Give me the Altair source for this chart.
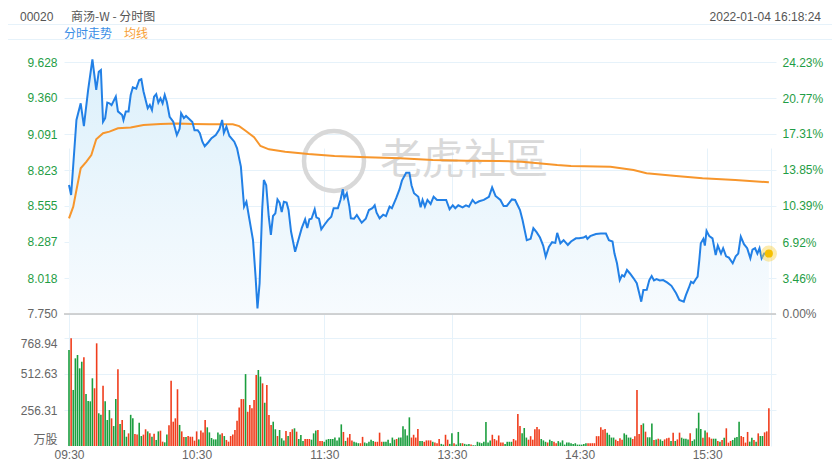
import json
import altair as alt
import pandas as pd

# ---------------- text ----------------
STOCK_CODE = "00020"
STOCK_NAME = "商汤-W - 分时图"
TIMESTAMP = "2022-01-04 16:18:24"
LEGEND_LABELS = ["分时走势", "均线"]
WATERMARK = "老虎社區"

# ---------------- axes ----------------
PREV_CLOSE = 7.75
PRICE_TICKS = [7.750, 8.018, 8.287, 8.555, 8.823, 9.091, 9.360, 9.628]
PCT_TICKS = [0.0, 0.0346, 0.0692, 0.1039, 0.1385, 0.1731, 0.2077, 0.2423]
VOL_TICKS = [0, 256.31, 512.63, 768.94]
TIME_TICKS = [0, 60, 120, 180, 240, 300, 330]
TIME_LABELS = ["09:30", "10:30", "11:30", "13:30", "14:30", "15:30", ""]

# ---------------- series (minute index, price) ----------------
PRICE_POINTS = [
    (0, 8.711), (1, 8.637), (3.5, 9.196), (5.5, 9.32), (7, 9.15), (9, 9.42), (11, 9.648),
    (12.8, 9.42), (14, 9.556), (15, 9.569), (16, 9.183), (17, 9.21), (18, 9.325), (19, 9.32),
    (20, 9.307), (22, 9.37), (23, 9.26), (25, 9.233), (25.6, 9.196), (26.7, 9.26), (28, 9.26),
    (29, 9.382), (30, 9.44), (31.6, 9.43), (33, 9.494), (34, 9.50), (35, 9.41), (37, 9.283),
    (38, 9.308), (39, 9.27), (40, 9.37), (41, 9.388), (42, 9.325), (43, 9.357), (44, 9.32),
    (45, 9.382), (46, 9.33), (47.3, 9.22), (49, 9.183), (50.7, 9.084), (52, 9.13), (52.7, 9.246),
    (54, 9.21), (55, 9.226), (57, 9.196), (58, 9.18), (59, 9.12), (60.5, 9.12), (61.5, 9.097),
    (62.7, 9.034), (63.8, 9.0), (65.5, 9.03), (67, 9.06), (69, 9.084), (70.7, 9.126), (72, 9.196),
    (72.8, 9.10), (74, 9.146), (75.4, 9.077), (77.7, 9.034), (79, 8.985), (80.8, 8.848),
    (82.3, 8.55), (83.4, 8.587), (84.6, 8.475), (86.5, 8.30), (87.7, 8.028), (88.6, 7.792),
    (89.6, 7.979), (90.8, 8.525), (91.6, 8.749), (92.7, 8.71), (93.9, 8.475), (94.9, 8.339),
    (95.9, 8.48), (97, 8.50), (98, 8.604), (99, 8.58), (100, 8.51), (101, 8.587), (102.3, 8.58),
    (103.2, 8.525), (104.4, 8.363), (106.3, 8.214), (107.8, 8.30), (109.4, 8.39), (111, 8.455),
    (112, 8.39), (113, 8.456), (114, 8.46), (115.5, 8.53), (116.3, 8.47), (117.5, 8.46),
    (118.6, 8.381), (120, 8.413), (121.7, 8.45), (123.3, 8.475), (124.4, 8.538), (126.4, 8.538),
    (127.6, 8.60), (128.7, 8.68), (129.4, 8.613), (130.6, 8.65), (131.8, 8.55), (132.5, 8.463),
    (134, 8.46), (135.3, 8.488), (136.4, 8.46), (137.6, 8.43), (139.5, 8.46), (141, 8.525),
    (142.6, 8.538), (143.7, 8.56), (144.6, 8.505), (146, 8.463), (147.7, 8.49), (149, 8.48),
    (150.7, 8.55), (151.8, 8.538), (153.8, 8.613), (155.4, 8.68), (156.5, 8.744), (158.5, 8.803),
    (160, 8.803), (161, 8.71), (162.2, 8.65), (164.2, 8.624), (165.3, 8.545), (166.2, 8.60),
    (167.3, 8.55), (168.5, 8.60), (170, 8.57), (171.4, 8.624), (173, 8.60), (175.5, 8.60),
    (177.3, 8.60), (178.9, 8.53), (180.4, 8.56), (181.6, 8.538), (183, 8.56), (185, 8.545),
    (186.6, 8.56), (188, 8.55), (189.7, 8.60), (191, 8.575), (192.8, 8.59), (195, 8.60),
    (197.4, 8.624), (198.9, 8.694), (200.5, 8.63), (202.8, 8.60), (204.3, 8.555), (205.8, 8.555),
    (208.2, 8.604), (209.7, 8.60), (212, 8.525), (213.2, 8.45), (215.2, 8.30), (217, 8.31),
    (218.3, 8.389), (219.8, 8.36), (221.4, 8.32), (222.9, 8.26), (224.1, 8.177), (225.6, 8.25),
    (227.1, 8.285), (228.6, 8.28), (229.5, 8.355), (231, 8.277), (232.5, 8.30), (234.5, 8.264),
    (236, 8.29), (238.3, 8.314), (239.8, 8.314), (241.9, 8.32), (243, 8.33), (243.7, 8.31),
    (245, 8.33), (247.7, 8.346), (250, 8.35), (252.4, 8.35), (253.8, 8.30), (255.5, 8.29),
    (256.4, 8.202), (257.6, 8.128), (258.9, 8.003), (260, 8.04), (261, 8.03), (262.3, 8.078),
    (263.8, 8.05), (265.4, 8.016), (266.9, 7.979), (268, 7.909), (269, 7.842), (270, 7.929),
    (271.6, 7.93), (272.8, 8.003), (273.9, 8.033), (275, 8.00), (276.2, 8.01), (277.7, 8.00),
    (279.3, 8.003), (281.3, 7.984), (283.2, 7.96), (285.4, 7.904), (286.9, 7.854), (289, 7.842),
    (290, 7.89), (291.3, 7.942), (292.4, 7.99), (293.5, 7.98), (294.4, 8.003), (295.5, 8.028),
    (296.3, 8.152), (297, 8.277), (298.2, 8.31), (298.9, 8.26), (299.7, 8.37), (301, 8.33),
    (302.5, 8.314), (304, 8.19), (305, 8.26), (306.5, 8.2), (307.5, 8.24), (308.9, 8.18),
    (310.2, 8.17), (312, 8.128), (313.4, 8.18), (314.6, 8.2), (315.8, 8.326), (317.3, 8.27),
    (318.8, 8.24), (320.3, 8.165), (321.3, 8.23), (322.5, 8.24), (323.6, 8.2), (324.6, 8.24),
    (325.6, 8.165), (326.8, 8.2), (329, 8.20),
]

AVG_POINTS = [
    (0, 8.463), (2, 8.55), (3.5, 8.674), (5.5, 8.836), (8.2, 8.885), (10.5, 8.935), (12.8, 9.052),
    (16, 9.097), (19, 9.109), (23, 9.134), (29, 9.14), (35, 9.159), (43, 9.166), (50.7, 9.17),
    (58.4, 9.166), (66, 9.164), (77, 9.164), (80, 9.15), (83, 9.116), (87, 9.067), (90, 9.002),
    (94, 8.977), (101.6, 8.96), (112.5, 8.942), (124.8, 8.928), (140, 8.918), (155.7, 8.91),
    (171, 8.898), (186.6, 8.893), (202, 8.89), (212.8, 8.885), (220.6, 8.873), (229.5, 8.86),
    (236, 8.853), (254.5, 8.848), (265.4, 8.823), (271.5, 8.799), (285.4, 8.778), (297.8, 8.761),
    (313.2, 8.749), (329, 8.732),
]

# volume per minute (万股), minute 0..329
VOLUME = [
    683, 767, 399, 624, 648, 553, 600, 631, 370, 320,
    318, 482, 411, 731, 233, 222, 429, 318, 185, 256,
    197, 142, 334, 546, 157, 185, 114, 66, 90, 222,
    197, 85, 81, 166, 71, 81, 119, 104, 90, 66,
    88, 43, 104, 109, 31, 26, 81, 147, 465, 173,
    197, 404, 150, 104, 64, 64, 71, 66, 66, 38,
    104, 47, 111, 97, 185, 133, 97, 57, 47, 47,
    97, 81, 90, 71, 43, 31, 71, 81, 114, 180,
    275, 334, 334, 512, 244, 292, 268, 327, 505, 541,
    494, 446, 308, 434, 221, 150, 173, 119, 71, 114,
    55, 40, 107, 71, 100, 119, 126, 102, 50, 78,
    36, 50, 50, 50, 45, 90, 110, 114, 36, 36,
    30, 45, 50, 50, 50, 60, 40, 60, 154, 100,
    36, 60, 85, 40, 30, 25, 20, 20, 65, 25,
    20, 30, 45, 35, 30, 30, 95, 30, 30, 30,
    45, 20, 60, 45, 50, 60, 60, 141, 120, 75,
    204, 60, 80, 60, 121, 35, 35, 30, 40, 40,
    40, 30, 25, 20, 50, 15, 10, 80, 45, 15,
    90, 20, 10, 100, 20, 20, 15, 10, 15, 10,
    5, 5, 30, 25, 20, 30, 170, 25, 40, 80,
    50, 40, 75, 25, 25, 15, 30, 30, 30, 50,
    40, 228, 142, 90, 128, 60, 45, 70, 45, 120,
    135, 120, 50, 40, 30, 25, 45, 35, 30, 20,
    35, 25, 40, 10, 25, 25, 20, 15, 20, 10,
    10, 10, 15, 20, 20, 20, 20, 20, 70, 70,
    133, 116, 121, 95, 80, 60, 60, 45, 35, 55,
    45, 90, 80, 60, 60, 50, 70, 399, 85, 150,
    161, 102, 62, 62, 161, 43, 47, 52, 47, 36,
    47, 55, 59, 36, 95, 36, 47, 95, 59, 52,
    52, 47, 90, 36, 47, 126, 237, 121, 59, 111,
    97, 62, 52, 52, 52, 36, 31, 43, 59, 126,
    24, 36, 43, 59, 64, 173, 71, 64, 24, 100,
    31, 59, 43, 31, 90, 71, 71, 97, 104, 268,
]
# r = red bar, g = green bar
VOL_SIDE = list(
    "grgggggrgg" "ggrrggrggg" "rggrgrggrg" "grrggrrgrg" "rggrrggrrr"
    "rrgrrgrrrr" "rgrrrggggg" "ggrgrrrrrr" "rrrgrrrrrg" "grgrrrggrg"
    "ggrgrrgrgg" "grrrgggrrr" "gggggggggr" "grrrgggrrg" "ggggrrrrgg"
    "ggggrggggg" "grrrrggrrr" "rgrrrggrrg" "grgggrgggr" "gggggggggr"
    "rrrrrggggr" "rrrgggrrrr" "rrgggrggrr" "gggggggggg" "ggggrrrrrr"
    "rrrggggrrr" "rggggrrrrr" "grgggrgrgg" "rrrgrgrrgg" "ggrgggggrg"
    "rrrggrgrgr" "rrggggrrrr" "ggrgrggrrr"
)

# ---------------- style ----------------
FONT = "Liberation Sans, 'Noto Sans CJK SC', sans-serif"
CJK = "'Noto Sans CJK SC', sans-serif"
GRID = "#e6f2fa"
GREEN_TXT = "#1f9d45"
GRAY_TXT = "#666666"
BLUE = "#2280e6"
ORANGE = "#f7962c"
RED_BAR = "#f03d1c"
GREEN_BAR = "#1b9e3e"

W, H = 712, 406
P_TOP, P_BOT = 9.792, 7.5711          # price value at group y 0 and y 298
PRICE_RANGE = [298, 0]
VOL_RANGE = [406, 298]

price_df = pd.DataFrame(PRICE_POINTS, columns=["t", "price"])
price_df["base"] = PREV_CLOSE
avg_df = pd.DataFrame(AVG_POINTS, columns=["t", "avg"])
n = min(len(VOLUME), len(VOL_SIDE))
vol_df = pd.DataFrame({"t": list(range(n)), "vol": VOLUME[:n], "side": VOL_SIDE[:n]})
last_df = price_df.tail(1)
dummy = pd.DataFrame({"a": [0]})

x_scale = alt.Scale(domain=[0, 330], nice=False, zero=False)
price_scale = alt.Scale(domain=[P_BOT, P_TOP], range=PRICE_RANGE, nice=False, zero=False)
pct_scale = alt.Scale(domain=[(P_BOT - PREV_CLOSE) / PREV_CLOSE, (P_TOP - PREV_CLOSE) / PREV_CLOSE],
                      range=PRICE_RANGE, nice=False, zero=False)
vol_scale = alt.Scale(domain=[0, 768.94], range=VOL_RANGE, nice=False, zero=False)

time_expr = (f"indexof({json.dumps(TIME_TICKS)}, datum.value) >= 0 ? "
             f"{json.dumps(TIME_LABELS)}[indexof({json.dumps(TIME_TICKS)}, datum.value)] : ''")
x_axis = alt.Axis(values=TIME_TICKS, labelExpr=time_expr, grid=True, gridColor=GRID, title=None,
                  ticks=False, domain=False, labelColor=GRAY_TXT, labelPadding=3, labelFlush=True,
                  labelFont=FONT, labelFontSize=12)


def X():
    return alt.X("t:Q", scale=x_scale, axis=x_axis)


price_axis = alt.Axis(orient="left", values=PRICE_TICKS, format=".3f", grid=True, gridColor=GRID,
                      title=None, ticks=False, domain=False, labelPadding=7, labelFont=FONT,
                      labelFontSize=12,
                      labelColor={"condition": {"test": f"datum.value <= {PREV_CLOSE}", "value": GRAY_TXT},
                                  "value": GREEN_TXT})
pct_axis = alt.Axis(orient="right", values=PCT_TICKS, format=".2%", grid=False, title=None,
                    ticks=False, domain=False, labelPadding=6, labelFont=FONT, labelFontSize=12,
                    labelColor={"condition": {"test": "datum.value <= 0", "value": GRAY_TXT},
                                "value": GREEN_TXT})
vol_axis = alt.Axis(orient="left", values=VOL_TICKS, grid=True, gridColor=GRID,
                    gridOpacity={"condition": {"test": "datum.value == 0", "value": 0}, "value": 1},
                    labelExpr="datum.value == 0 ? '万股' : format(datum.value, '.2f')",
                    labelFlush=True, title=None, ticks=False, domain=False, labelPadding=7,
                    labelFont=FONT, labelFontSize=12, labelColor=GRAY_TXT)

gradient = alt.Gradient(gradient="linear",
                        stops=[alt.GradientStop(color="#dcf0fb", offset=0),
                               alt.GradientStop(color="#f7fbfe", offset=1)],
                        x1=1, x2=1, y1=0, y2=1)

area = alt.Chart(price_df).mark_area(color=gradient).encode(
    x=X(), y=alt.Y("price:Q", scale=price_scale, axis=price_axis), y2="base:Q")

baseline = alt.Chart(pd.DataFrame({"pct": [0.0]})).mark_rule(color="#c4c4c4", strokeWidth=1.5).encode(
    y=alt.Y("pct:Q", scale=pct_scale, axis=pct_axis))

wm_circle = alt.Chart(dummy).mark_point(shape="circle", filled=False, size=3600, strokeWidth=4.5,
                                        color="#d8d8d8", opacity=1).encode(
    x=alt.value(270), y=alt.value(121))
wm_text = alt.Chart(dummy).mark_text(text=WATERMARK, font="'Noto Sans CJK TC', sans-serif", fontSize=42,
                                     color="#d9d9d9", align="left", baseline="middle").encode(
    x=alt.value(316), y=alt.value(121))

bars = alt.Chart(vol_df).mark_bar(width=1.6).encode(
    x=X(), y=alt.Y("vol:Q", scale=vol_scale, axis=vol_axis),
    color=alt.Color("side:N", scale=alt.Scale(domain=["r", "g"], range=[RED_BAR, GREEN_BAR]), legend=None))

avg_line = alt.Chart(avg_df).mark_line(color=ORANGE, strokeWidth=2).encode(
    x=X(), y=alt.Y("avg:Q", scale=price_scale, axis=None))
price_line = alt.Chart(price_df).mark_line(color=BLUE, strokeWidth=2).encode(
    x=X(), y=alt.Y("price:Q", scale=price_scale, axis=None))

halo = alt.Chart(last_df).mark_circle(color="#f8d34a", opacity=0.45, size=260).encode(
    x=X(), y=alt.Y("price:Q", scale=price_scale, axis=None))
dot = alt.Chart(last_df).mark_circle(color="#f5c000", opacity=1, size=64).encode(
    x=X(), y=alt.Y("price:Q", scale=price_scale, axis=None))

# header / legend strip
strip_top = alt.Chart(dummy).mark_rule(color=GRID, strokeWidth=1).encode(
    x=alt.value(-56), x2=alt.value(W + 56), y=alt.value(-15.5))
strip_bot = alt.Chart(dummy).mark_rule(color=GRID, strokeWidth=1).encode(
    x=alt.value(-56), x2=alt.value(W + 56), y=alt.value(-0.5))

HDR_Y = -23.2
LEG_Y = -6.5
hdr_code = alt.Chart(dummy).mark_text(text=STOCK_CODE, font=FONT, fontSize=12, color="#555555",
                                      align="left", baseline="middle").encode(x=alt.value(-44), y=alt.value(HDR_Y))
hdr_name = alt.Chart(dummy).mark_text(text=STOCK_NAME, font=CJK, fontSize=12, color="#555555",
                                      align="left", baseline="middle").encode(x=alt.value(7), y=alt.value(HDR_Y))
hdr_time = alt.Chart(dummy).mark_text(text=TIMESTAMP, font=FONT, fontSize=12, color="#555555",
                                      align="right", baseline="middle").encode(x=alt.value(757), y=alt.value(HDR_Y))
leg1 = alt.Chart(dummy).mark_text(text=LEGEND_LABELS[0], font=CJK, fontSize=12, color="#3a8ee6",
                                  align="left", baseline="middle").encode(x=alt.value(0), y=alt.value(LEG_Y))
leg2 = alt.Chart(dummy).mark_text(text=LEGEND_LABELS[1], font=CJK, fontSize=12, color="#f7a035",
                                  align="left", baseline="middle").encode(x=alt.value(60), y=alt.value(LEG_Y))

chart = alt.layer(
    area, wm_circle, wm_text, baseline, bars, avg_line, price_line, halo, dot,
    strip_top, strip_bot, hdr_code, hdr_name, hdr_time, leg1, leg2,
).resolve_scale(y="independent").properties(
    width=W, height=H,
    padding={"left": 56, "top": 32, "right": 56, "bottom": 15},
    autosize=alt.AutoSizeParams(type="none"),
    background="white",
).configure_view(stroke=None)

chart.save("out.html", embed_options={"renderer": "svg", "actions": False})
